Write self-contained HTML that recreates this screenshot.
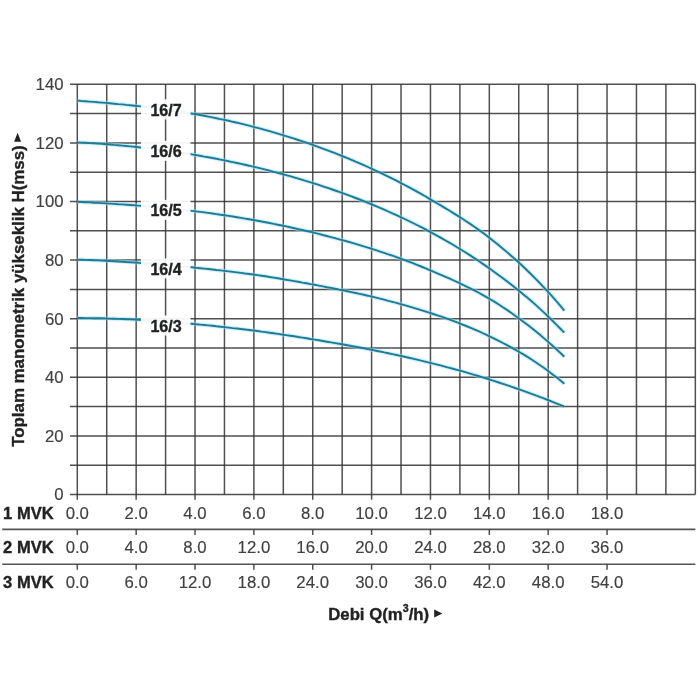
<!DOCTYPE html>
<html><head><meta charset="utf-8"><title>Pump curves</title>
<style>
html,body{margin:0;padding:0;background:#fff;}
body{width:700px;height:700px;overflow:hidden;}
svg{display:block;filter:blur(.4px);}
text{font-family:"Liberation Sans",Arial,Helvetica,sans-serif;}
.n{font-size:16.8px;fill:#404040;stroke:#404040;stroke-width:.15;}
.b{font-size:16.5px;font-weight:bold;fill:#222;stroke:#222;stroke-width:.35;}
.g{stroke:#333;stroke-width:1.5;fill:none;opacity:.86;}
.c{stroke:#1f7a96;stroke-width:1.9;fill:none;stroke-linecap:butt;}
.h{stroke:#9be4f2;stroke-width:4.2;fill:none;opacity:.5;}
.s{stroke:#555;stroke-width:1.6;}
</style></head><body>
<svg width="700" height="700" viewBox="0 0 700 700">
<rect width="700" height="700" fill="#fff"/>
<path class="g" d="M77.30,84.30V499.70M106.73,84.30V494.50M136.16,84.30V499.70M165.59,84.30V494.50M195.02,84.30V499.70M224.45,84.30V494.50M253.88,84.30V499.70M283.31,84.30V494.50M312.74,84.30V499.70M342.17,84.30V494.50M371.60,84.30V499.70M401.03,84.30V494.50M430.46,84.30V499.70M459.89,84.30V494.50M489.32,84.30V499.70M518.75,84.30V494.50M548.18,84.30V499.70M577.61,84.30V494.50M607.04,84.30V499.70M636.47,84.30V494.50M665.90,84.30V494.50M695.33,84.30V494.50"/>
<path class="g" d="M70.00,84.30H695.33M70.00,113.60H695.33M70.00,142.90H695.33M70.00,172.20H695.33M70.00,201.50H695.33M70.00,230.80H695.33M70.00,260.10H695.33M70.00,289.40H695.33M70.00,318.70H695.33M70.00,348.00H695.33M70.00,377.30H695.33M70.00,406.60H695.33M70.00,435.90H695.33M70.00,465.20H695.33M70.00,494.50H695.33"/>
<path class="h" d="M77.3,100.6 L81.4,101.0 L85.5,101.3 L89.6,101.6 L93.7,101.9 L97.8,102.3 L101.9,102.6 L105.9,102.9 L110.0,103.3 L114.1,103.7 L118.2,104.1 L122.3,104.4 L126.4,104.9 L130.5,105.3 L134.6,105.7 L138.7,106.1 L142.8,106.6 L146.9,107.1 L151.0,107.6 L155.1,108.1 L159.1,108.6 L163.2,109.2 L167.3,109.8 L171.4,110.3 L175.5,110.9 L179.6,111.6 L183.7,112.2 L187.8,112.9 L191.9,113.6 L196.0,114.3 L200.1,115.0 L204.2,115.8 L208.3,116.6 L212.4,117.4 L216.4,118.2 L220.5,119.1 L224.6,119.9 L228.7,120.8 L232.8,121.8 L236.9,122.7 L241.0,123.7 L245.1,124.7 L249.2,125.7 L253.3,126.8 L257.4,127.8 L261.5,128.9 L265.6,130.1 L269.6,131.2 L273.7,132.4 L277.8,133.6 L281.9,134.8 L286.0,136.1 L290.1,137.3 L294.2,138.7 L298.3,140.0 L302.4,141.3 L306.5,142.7 L310.6,144.2 L314.7,145.6 L318.8,147.1 L322.8,148.6 L326.9,150.1 L331.0,151.7 L335.1,153.2 L339.2,154.9 L343.3,156.5 L347.4,158.2 L351.5,159.9 L355.6,161.6 L359.7,163.4 L363.8,165.2 L367.9,167.0 L372.0,168.9 L376.0,170.8 L380.1,172.7 L384.2,174.6 L388.3,176.6 L392.4,178.7 L396.5,180.7 L400.6,182.8 L404.7,185.0 L408.8,187.2 L412.9,189.4 L417.0,191.6 L421.1,193.9 L425.2,196.3 L429.2,198.6 L433.3,201.1 L437.4,203.5 L441.5,205.9 L445.6,208.4 L449.7,210.8 L453.8,213.4 L457.9,215.9 L462.0,218.5 L466.1,221.2 L470.2,223.9 L474.3,226.7 L478.4,229.6 L482.5,232.5 L486.5,235.6 L490.6,238.7 L494.7,241.9 L498.8,245.3 L502.9,248.7 L507.0,252.1 L511.1,255.7 L515.2,259.3 L519.3,263.0 L523.4,266.8 L527.5,270.7 L531.6,274.7 L535.7,278.8 L539.7,283.0 L543.8,287.3 L547.9,291.7 L552.0,296.2 L556.1,300.9 L560.2,305.7 L564.3,310.7"/>
<path class="h" d="M77.3,142.4 L81.4,142.6 L85.5,142.8 L89.6,143.1 L93.7,143.3 L97.8,143.6 L101.9,143.9 L105.9,144.2 L110.0,144.5 L114.1,144.9 L118.2,145.2 L122.3,145.6 L126.4,146.0 L130.5,146.4 L134.6,146.8 L138.7,147.2 L142.8,147.7 L146.9,148.1 L151.0,148.6 L155.1,149.1 L159.1,149.7 L163.2,150.2 L167.3,150.7 L171.4,151.3 L175.5,151.9 L179.6,152.5 L183.7,153.1 L187.8,153.8 L191.9,154.4 L196.0,155.1 L200.1,155.8 L204.2,156.6 L208.3,157.3 L212.4,158.0 L216.4,158.8 L220.5,159.6 L224.6,160.4 L228.7,161.3 L232.8,162.1 L236.9,163.0 L241.0,163.9 L245.1,164.8 L249.2,165.7 L253.3,166.7 L257.4,167.7 L261.5,168.7 L265.6,169.7 L269.6,170.7 L273.7,171.8 L277.8,172.9 L281.9,174.0 L286.0,175.1 L290.1,176.2 L294.2,177.4 L298.3,178.6 L302.4,179.8 L306.5,181.1 L310.6,182.3 L314.7,183.6 L318.8,184.9 L322.8,186.3 L326.9,187.7 L331.0,189.0 L335.1,190.5 L339.2,191.9 L343.3,193.4 L347.4,194.9 L351.5,196.4 L355.6,198.0 L359.7,199.5 L363.8,201.2 L367.9,202.8 L372.0,204.5 L376.0,206.2 L380.1,207.9 L384.2,209.7 L388.3,211.5 L392.4,213.3 L396.5,215.2 L400.6,217.1 L404.7,219.0 L408.8,221.0 L412.9,223.0 L417.0,225.0 L421.1,227.1 L425.2,229.2 L429.2,231.4 L433.3,233.6 L437.4,235.8 L441.5,238.1 L445.6,240.5 L449.7,242.8 L453.8,245.3 L457.9,247.7 L462.0,250.2 L466.1,252.8 L470.2,255.4 L474.3,258.1 L478.4,260.8 L482.5,263.6 L486.5,266.4 L490.6,269.2 L494.7,272.2 L498.8,275.2 L502.9,278.2 L507.0,281.3 L511.1,284.5 L515.2,287.7 L519.3,291.0 L523.4,294.4 L527.5,297.8 L531.6,301.3 L535.7,304.9 L539.7,308.6 L543.8,312.4 L547.9,316.3 L552.0,320.3 L556.1,324.4 L560.2,328.5 L564.3,332.7"/>
<path class="h" d="M77.3,201.8 L81.4,202.0 L85.5,202.2 L89.6,202.4 L93.7,202.7 L97.8,202.9 L101.9,203.1 L105.9,203.4 L110.0,203.6 L114.1,203.9 L118.2,204.2 L122.3,204.4 L126.4,204.7 L130.5,205.0 L134.6,205.3 L138.7,205.6 L142.8,206.0 L146.9,206.3 L151.0,206.7 L155.1,207.0 L159.1,207.4 L163.2,207.8 L167.3,208.2 L171.4,208.6 L175.5,209.0 L179.6,209.5 L183.7,209.9 L187.8,210.4 L191.9,210.9 L196.0,211.4 L200.1,211.9 L204.2,212.4 L208.3,212.9 L212.4,213.5 L216.4,214.1 L220.5,214.7 L224.6,215.3 L228.7,215.9 L232.8,216.5 L236.9,217.2 L241.0,217.9 L245.1,218.6 L249.2,219.3 L253.3,220.0 L257.4,220.7 L261.5,221.5 L265.6,222.3 L269.6,223.0 L273.7,223.9 L277.8,224.7 L281.9,225.5 L286.0,226.4 L290.1,227.3 L294.2,228.2 L298.3,229.1 L302.4,230.0 L306.5,231.0 L310.6,231.9 L314.7,232.9 L318.8,233.9 L322.8,235.0 L326.9,236.0 L331.0,237.1 L335.1,238.2 L339.2,239.3 L343.3,240.4 L347.4,241.5 L351.5,242.7 L355.6,243.9 L359.7,245.1 L363.8,246.4 L367.9,247.6 L372.0,248.9 L376.0,250.2 L380.1,251.6 L384.2,252.9 L388.3,254.3 L392.4,255.7 L396.5,257.2 L400.6,258.6 L404.7,260.1 L408.8,261.7 L412.9,263.2 L417.0,264.8 L421.1,266.5 L425.2,268.1 L429.2,269.8 L433.3,271.6 L437.4,273.3 L441.5,275.1 L445.6,276.8 L449.7,278.6 L453.8,280.5 L457.9,282.4 L462.0,284.3 L466.1,286.3 L470.2,288.3 L474.3,290.4 L478.4,292.5 L482.5,294.8 L486.5,297.1 L490.6,299.5 L494.7,301.9 L498.8,304.5 L502.9,307.2 L507.0,309.9 L511.1,312.8 L515.2,315.7 L519.3,318.7 L523.4,321.7 L527.5,324.8 L531.6,328.0 L535.7,331.3 L539.7,334.6 L543.8,338.1 L547.9,341.6 L552.0,345.2 L556.1,349.0 L560.2,352.8 L564.3,356.7"/>
<path class="h" d="M77.3,259.6 L81.4,259.7 L85.5,259.9 L89.6,260.0 L93.7,260.2 L97.8,260.4 L101.9,260.6 L105.9,260.8 L110.0,261.0 L114.1,261.2 L118.2,261.5 L122.3,261.7 L126.4,262.0 L130.5,262.2 L134.6,262.5 L138.7,262.8 L142.8,263.1 L146.9,263.4 L151.0,263.7 L155.1,264.0 L159.1,264.4 L163.2,264.7 L167.3,265.0 L171.4,265.4 L175.5,265.8 L179.6,266.1 L183.7,266.5 L187.8,266.9 L191.9,267.3 L196.0,267.8 L200.1,268.2 L204.2,268.6 L208.3,269.0 L212.4,269.5 L216.4,270.0 L220.5,270.4 L224.6,270.9 L228.7,271.4 L232.8,271.9 L236.9,272.4 L241.0,272.9 L245.1,273.5 L249.2,274.0 L253.3,274.5 L257.4,275.1 L261.5,275.7 L265.6,276.3 L269.6,277.0 L273.7,277.6 L277.8,278.3 L281.9,279.0 L286.0,279.7 L290.1,280.4 L294.2,281.1 L298.3,281.8 L302.4,282.6 L306.5,283.3 L310.6,284.1 L314.7,284.8 L318.8,285.6 L322.8,286.4 L326.9,287.2 L331.0,287.9 L335.1,288.7 L339.2,289.6 L343.3,290.4 L347.4,291.2 L351.5,292.1 L355.6,293.0 L359.7,293.9 L363.8,294.8 L367.9,295.7 L372.0,296.7 L376.0,297.7 L380.1,298.7 L384.2,299.7 L388.3,300.8 L392.4,301.8 L396.5,302.9 L400.6,304.1 L404.7,305.2 L408.8,306.4 L412.9,307.6 L417.0,308.8 L421.1,310.1 L425.2,311.3 L429.2,312.6 L433.3,314.0 L437.4,315.3 L441.5,316.7 L445.6,318.2 L449.7,319.6 L453.8,321.2 L457.9,322.7 L462.0,324.3 L466.1,326.0 L470.2,327.6 L474.3,329.4 L478.4,331.2 L482.5,333.0 L486.5,334.9 L490.6,336.8 L494.7,338.8 L498.8,340.9 L502.9,343.0 L507.0,345.2 L511.1,347.4 L515.2,349.7 L519.3,352.0 L523.4,354.4 L527.5,356.9 L531.6,359.5 L535.7,362.2 L539.7,365.0 L543.8,367.8 L547.9,370.8 L552.0,373.9 L556.1,377.1 L560.2,380.3 L564.3,383.7"/>
<path class="h" d="M77.3,318.0 L81.4,318.0 L85.5,318.1 L89.6,318.1 L93.7,318.2 L97.8,318.2 L101.9,318.3 L105.9,318.4 L110.0,318.6 L114.1,318.7 L118.2,318.9 L122.3,319.0 L126.4,319.2 L130.5,319.4 L134.6,319.6 L138.7,319.8 L142.8,320.1 L146.9,320.3 L151.0,320.6 L155.1,320.9 L159.1,321.2 L163.2,321.5 L167.3,321.8 L171.4,322.1 L175.5,322.4 L179.6,322.8 L183.7,323.1 L187.8,323.5 L191.9,323.8 L196.0,324.2 L200.1,324.6 L204.2,325.0 L208.3,325.4 L212.4,325.8 L216.4,326.3 L220.5,326.7 L224.6,327.1 L228.7,327.6 L232.8,328.1 L236.9,328.5 L241.0,329.0 L245.1,329.5 L249.2,330.0 L253.3,330.5 L257.4,331.0 L261.5,331.6 L265.6,332.1 L269.6,332.7 L273.7,333.3 L277.8,333.9 L281.9,334.5 L286.0,335.1 L290.1,335.7 L294.2,336.3 L298.3,337.0 L302.4,337.6 L306.5,338.3 L310.6,339.0 L314.7,339.6 L318.8,340.3 L322.8,341.0 L326.9,341.7 L331.0,342.4 L335.1,343.1 L339.2,343.8 L343.3,344.5 L347.4,345.2 L351.5,346.0 L355.6,346.7 L359.7,347.5 L363.8,348.3 L367.9,349.1 L372.0,349.9 L376.0,350.7 L380.1,351.5 L384.2,352.4 L388.3,353.2 L392.4,354.1 L396.5,355.0 L400.6,355.9 L404.7,356.8 L408.8,357.7 L412.9,358.6 L417.0,359.6 L421.1,360.6 L425.2,361.6 L429.2,362.6 L433.3,363.6 L437.4,364.6 L441.5,365.7 L445.6,366.8 L449.7,367.9 L453.8,369.0 L457.9,370.1 L462.0,371.2 L466.1,372.4 L470.2,373.6 L474.3,374.8 L478.4,376.0 L482.5,377.3 L486.5,378.5 L490.6,379.8 L494.7,381.1 L498.8,382.5 L502.9,383.8 L507.0,385.2 L511.1,386.6 L515.2,388.0 L519.3,389.4 L523.4,390.9 L527.5,392.3 L531.6,393.8 L535.7,395.3 L539.7,396.9 L543.8,398.4 L547.9,400.0 L552.0,401.6 L556.1,403.3 L560.2,404.9 L564.3,406.6"/>
<path class="c" d="M77.3,100.6 L81.4,101.0 L85.5,101.3 L89.6,101.6 L93.7,101.9 L97.8,102.3 L101.9,102.6 L105.9,102.9 L110.0,103.3 L114.1,103.7 L118.2,104.1 L122.3,104.4 L126.4,104.9 L130.5,105.3 L134.6,105.7 L138.7,106.1 L142.8,106.6 L146.9,107.1 L151.0,107.6 L155.1,108.1 L159.1,108.6 L163.2,109.2 L167.3,109.8 L171.4,110.3 L175.5,110.9 L179.6,111.6 L183.7,112.2 L187.8,112.9 L191.9,113.6 L196.0,114.3 L200.1,115.0 L204.2,115.8 L208.3,116.6 L212.4,117.4 L216.4,118.2 L220.5,119.1 L224.6,119.9 L228.7,120.8 L232.8,121.8 L236.9,122.7 L241.0,123.7 L245.1,124.7 L249.2,125.7 L253.3,126.8 L257.4,127.8 L261.5,128.9 L265.6,130.1 L269.6,131.2 L273.7,132.4 L277.8,133.6 L281.9,134.8 L286.0,136.1 L290.1,137.3 L294.2,138.7 L298.3,140.0 L302.4,141.3 L306.5,142.7 L310.6,144.2 L314.7,145.6 L318.8,147.1 L322.8,148.6 L326.9,150.1 L331.0,151.7 L335.1,153.2 L339.2,154.9 L343.3,156.5 L347.4,158.2 L351.5,159.9 L355.6,161.6 L359.7,163.4 L363.8,165.2 L367.9,167.0 L372.0,168.9 L376.0,170.8 L380.1,172.7 L384.2,174.6 L388.3,176.6 L392.4,178.7 L396.5,180.7 L400.6,182.8 L404.7,185.0 L408.8,187.2 L412.9,189.4 L417.0,191.6 L421.1,193.9 L425.2,196.3 L429.2,198.6 L433.3,201.1 L437.4,203.5 L441.5,205.9 L445.6,208.4 L449.7,210.8 L453.8,213.4 L457.9,215.9 L462.0,218.5 L466.1,221.2 L470.2,223.9 L474.3,226.7 L478.4,229.6 L482.5,232.5 L486.5,235.6 L490.6,238.7 L494.7,241.9 L498.8,245.3 L502.9,248.7 L507.0,252.1 L511.1,255.7 L515.2,259.3 L519.3,263.0 L523.4,266.8 L527.5,270.7 L531.6,274.7 L535.7,278.8 L539.7,283.0 L543.8,287.3 L547.9,291.7 L552.0,296.2 L556.1,300.9 L560.2,305.7 L564.3,310.7"/>
<path class="c" d="M77.3,142.4 L81.4,142.6 L85.5,142.8 L89.6,143.1 L93.7,143.3 L97.8,143.6 L101.9,143.9 L105.9,144.2 L110.0,144.5 L114.1,144.9 L118.2,145.2 L122.3,145.6 L126.4,146.0 L130.5,146.4 L134.6,146.8 L138.7,147.2 L142.8,147.7 L146.9,148.1 L151.0,148.6 L155.1,149.1 L159.1,149.7 L163.2,150.2 L167.3,150.7 L171.4,151.3 L175.5,151.9 L179.6,152.5 L183.7,153.1 L187.8,153.8 L191.9,154.4 L196.0,155.1 L200.1,155.8 L204.2,156.6 L208.3,157.3 L212.4,158.0 L216.4,158.8 L220.5,159.6 L224.6,160.4 L228.7,161.3 L232.8,162.1 L236.9,163.0 L241.0,163.9 L245.1,164.8 L249.2,165.7 L253.3,166.7 L257.4,167.7 L261.5,168.7 L265.6,169.7 L269.6,170.7 L273.7,171.8 L277.8,172.9 L281.9,174.0 L286.0,175.1 L290.1,176.2 L294.2,177.4 L298.3,178.6 L302.4,179.8 L306.5,181.1 L310.6,182.3 L314.7,183.6 L318.8,184.9 L322.8,186.3 L326.9,187.7 L331.0,189.0 L335.1,190.5 L339.2,191.9 L343.3,193.4 L347.4,194.9 L351.5,196.4 L355.6,198.0 L359.7,199.5 L363.8,201.2 L367.9,202.8 L372.0,204.5 L376.0,206.2 L380.1,207.9 L384.2,209.7 L388.3,211.5 L392.4,213.3 L396.5,215.2 L400.6,217.1 L404.7,219.0 L408.8,221.0 L412.9,223.0 L417.0,225.0 L421.1,227.1 L425.2,229.2 L429.2,231.4 L433.3,233.6 L437.4,235.8 L441.5,238.1 L445.6,240.5 L449.7,242.8 L453.8,245.3 L457.9,247.7 L462.0,250.2 L466.1,252.8 L470.2,255.4 L474.3,258.1 L478.4,260.8 L482.5,263.6 L486.5,266.4 L490.6,269.2 L494.7,272.2 L498.8,275.2 L502.9,278.2 L507.0,281.3 L511.1,284.5 L515.2,287.7 L519.3,291.0 L523.4,294.4 L527.5,297.8 L531.6,301.3 L535.7,304.9 L539.7,308.6 L543.8,312.4 L547.9,316.3 L552.0,320.3 L556.1,324.4 L560.2,328.5 L564.3,332.7"/>
<path class="c" d="M77.3,201.8 L81.4,202.0 L85.5,202.2 L89.6,202.4 L93.7,202.7 L97.8,202.9 L101.9,203.1 L105.9,203.4 L110.0,203.6 L114.1,203.9 L118.2,204.2 L122.3,204.4 L126.4,204.7 L130.5,205.0 L134.6,205.3 L138.7,205.6 L142.8,206.0 L146.9,206.3 L151.0,206.7 L155.1,207.0 L159.1,207.4 L163.2,207.8 L167.3,208.2 L171.4,208.6 L175.5,209.0 L179.6,209.5 L183.7,209.9 L187.8,210.4 L191.9,210.9 L196.0,211.4 L200.1,211.9 L204.2,212.4 L208.3,212.9 L212.4,213.5 L216.4,214.1 L220.5,214.7 L224.6,215.3 L228.7,215.9 L232.8,216.5 L236.9,217.2 L241.0,217.9 L245.1,218.6 L249.2,219.3 L253.3,220.0 L257.4,220.7 L261.5,221.5 L265.6,222.3 L269.6,223.0 L273.7,223.9 L277.8,224.7 L281.9,225.5 L286.0,226.4 L290.1,227.3 L294.2,228.2 L298.3,229.1 L302.4,230.0 L306.5,231.0 L310.6,231.9 L314.7,232.9 L318.8,233.9 L322.8,235.0 L326.9,236.0 L331.0,237.1 L335.1,238.2 L339.2,239.3 L343.3,240.4 L347.4,241.5 L351.5,242.7 L355.6,243.9 L359.7,245.1 L363.8,246.4 L367.9,247.6 L372.0,248.9 L376.0,250.2 L380.1,251.6 L384.2,252.9 L388.3,254.3 L392.4,255.7 L396.5,257.2 L400.6,258.6 L404.7,260.1 L408.8,261.7 L412.9,263.2 L417.0,264.8 L421.1,266.5 L425.2,268.1 L429.2,269.8 L433.3,271.6 L437.4,273.3 L441.5,275.1 L445.6,276.8 L449.7,278.6 L453.8,280.5 L457.9,282.4 L462.0,284.3 L466.1,286.3 L470.2,288.3 L474.3,290.4 L478.4,292.5 L482.5,294.8 L486.5,297.1 L490.6,299.5 L494.7,301.9 L498.8,304.5 L502.9,307.2 L507.0,309.9 L511.1,312.8 L515.2,315.7 L519.3,318.7 L523.4,321.7 L527.5,324.8 L531.6,328.0 L535.7,331.3 L539.7,334.6 L543.8,338.1 L547.9,341.6 L552.0,345.2 L556.1,349.0 L560.2,352.8 L564.3,356.7"/>
<path class="c" d="M77.3,259.6 L81.4,259.7 L85.5,259.9 L89.6,260.0 L93.7,260.2 L97.8,260.4 L101.9,260.6 L105.9,260.8 L110.0,261.0 L114.1,261.2 L118.2,261.5 L122.3,261.7 L126.4,262.0 L130.5,262.2 L134.6,262.5 L138.7,262.8 L142.8,263.1 L146.9,263.4 L151.0,263.7 L155.1,264.0 L159.1,264.4 L163.2,264.7 L167.3,265.0 L171.4,265.4 L175.5,265.8 L179.6,266.1 L183.7,266.5 L187.8,266.9 L191.9,267.3 L196.0,267.8 L200.1,268.2 L204.2,268.6 L208.3,269.0 L212.4,269.5 L216.4,270.0 L220.5,270.4 L224.6,270.9 L228.7,271.4 L232.8,271.9 L236.9,272.4 L241.0,272.9 L245.1,273.5 L249.2,274.0 L253.3,274.5 L257.4,275.1 L261.5,275.7 L265.6,276.3 L269.6,277.0 L273.7,277.6 L277.8,278.3 L281.9,279.0 L286.0,279.7 L290.1,280.4 L294.2,281.1 L298.3,281.8 L302.4,282.6 L306.5,283.3 L310.6,284.1 L314.7,284.8 L318.8,285.6 L322.8,286.4 L326.9,287.2 L331.0,287.9 L335.1,288.7 L339.2,289.6 L343.3,290.4 L347.4,291.2 L351.5,292.1 L355.6,293.0 L359.7,293.9 L363.8,294.8 L367.9,295.7 L372.0,296.7 L376.0,297.7 L380.1,298.7 L384.2,299.7 L388.3,300.8 L392.4,301.8 L396.5,302.9 L400.6,304.1 L404.7,305.2 L408.8,306.4 L412.9,307.6 L417.0,308.8 L421.1,310.1 L425.2,311.3 L429.2,312.6 L433.3,314.0 L437.4,315.3 L441.5,316.7 L445.6,318.2 L449.7,319.6 L453.8,321.2 L457.9,322.7 L462.0,324.3 L466.1,326.0 L470.2,327.6 L474.3,329.4 L478.4,331.2 L482.5,333.0 L486.5,334.9 L490.6,336.8 L494.7,338.8 L498.8,340.9 L502.9,343.0 L507.0,345.2 L511.1,347.4 L515.2,349.7 L519.3,352.0 L523.4,354.4 L527.5,356.9 L531.6,359.5 L535.7,362.2 L539.7,365.0 L543.8,367.8 L547.9,370.8 L552.0,373.9 L556.1,377.1 L560.2,380.3 L564.3,383.7"/>
<path class="c" d="M77.3,318.0 L81.4,318.0 L85.5,318.1 L89.6,318.1 L93.7,318.2 L97.8,318.2 L101.9,318.3 L105.9,318.4 L110.0,318.6 L114.1,318.7 L118.2,318.9 L122.3,319.0 L126.4,319.2 L130.5,319.4 L134.6,319.6 L138.7,319.8 L142.8,320.1 L146.9,320.3 L151.0,320.6 L155.1,320.9 L159.1,321.2 L163.2,321.5 L167.3,321.8 L171.4,322.1 L175.5,322.4 L179.6,322.8 L183.7,323.1 L187.8,323.5 L191.9,323.8 L196.0,324.2 L200.1,324.6 L204.2,325.0 L208.3,325.4 L212.4,325.8 L216.4,326.3 L220.5,326.7 L224.6,327.1 L228.7,327.6 L232.8,328.1 L236.9,328.5 L241.0,329.0 L245.1,329.5 L249.2,330.0 L253.3,330.5 L257.4,331.0 L261.5,331.6 L265.6,332.1 L269.6,332.7 L273.7,333.3 L277.8,333.9 L281.9,334.5 L286.0,335.1 L290.1,335.7 L294.2,336.3 L298.3,337.0 L302.4,337.6 L306.5,338.3 L310.6,339.0 L314.7,339.6 L318.8,340.3 L322.8,341.0 L326.9,341.7 L331.0,342.4 L335.1,343.1 L339.2,343.8 L343.3,344.5 L347.4,345.2 L351.5,346.0 L355.6,346.7 L359.7,347.5 L363.8,348.3 L367.9,349.1 L372.0,349.9 L376.0,350.7 L380.1,351.5 L384.2,352.4 L388.3,353.2 L392.4,354.1 L396.5,355.0 L400.6,355.9 L404.7,356.8 L408.8,357.7 L412.9,358.6 L417.0,359.6 L421.1,360.6 L425.2,361.6 L429.2,362.6 L433.3,363.6 L437.4,364.6 L441.5,365.7 L445.6,366.8 L449.7,367.9 L453.8,369.0 L457.9,370.1 L462.0,371.2 L466.1,372.4 L470.2,373.6 L474.3,374.8 L478.4,376.0 L482.5,377.3 L486.5,378.5 L490.6,379.8 L494.7,381.1 L498.8,382.5 L502.9,383.8 L507.0,385.2 L511.1,386.6 L515.2,388.0 L519.3,389.4 L523.4,390.9 L527.5,392.3 L531.6,393.8 L535.7,395.3 L539.7,396.9 L543.8,398.4 L547.9,400.0 L552.0,401.6 L556.1,403.3 L560.2,404.9 L564.3,406.6"/>
<rect x="141" y="99.4" width="49.5" height="20" fill="#fff" opacity="0.93"/>
<rect x="141" y="140.8" width="49.5" height="20" fill="#fff" opacity="0.93"/>
<rect x="141" y="199.9" width="49.5" height="20" fill="#fff" opacity="0.93"/>
<rect x="141" y="258.4" width="49.5" height="20" fill="#fff" opacity="0.93"/>
<rect x="141" y="315.5" width="49.5" height="20" fill="#fff" opacity="0.93"/>
<text class="b" x="150.4" y="115.7" textLength="31.4" lengthAdjust="spacingAndGlyphs">16/7</text>
<text class="b" x="150.4" y="157.1" textLength="31.4" lengthAdjust="spacingAndGlyphs">16/6</text>
<text class="b" x="150.4" y="216.2" textLength="31.4" lengthAdjust="spacingAndGlyphs">16/5</text>
<text class="b" x="150.4" y="274.7" textLength="31.4" lengthAdjust="spacingAndGlyphs">16/4</text>
<text class="b" x="150.4" y="331.8" textLength="31.4" lengthAdjust="spacingAndGlyphs">16/3</text>
<text class="n" x="63.6" y="90.1" text-anchor="end">140</text>
<text class="n" x="63.6" y="148.7" text-anchor="end">120</text>
<text class="n" x="63.6" y="207.3" text-anchor="end">100</text>
<text class="n" x="63.6" y="265.9" text-anchor="end">80</text>
<text class="n" x="63.6" y="324.5" text-anchor="end">60</text>
<text class="n" x="63.6" y="383.1" text-anchor="end">40</text>
<text class="n" x="63.6" y="441.7" text-anchor="end">20</text>
<text class="n" x="63.6" y="500.3" text-anchor="end">0</text>
<text class="b" transform="translate(23.7,446.8) rotate(-90)" x="0" y="0" textLength="301.5" lengthAdjust="spacingAndGlyphs">Toplam manometrik yükseklik H(mss)</text>
<path d="M14.1,141.8 L21.1,141.8 L17.6,132.8 Z" fill="#222"/>
<text class="b" x="3.1" y="519.4" textLength="50.6" lengthAdjust="spacingAndGlyphs">1 MVK</text>
<text class="n" x="77.3" y="519.4" text-anchor="middle">0.0</text>
<text class="n" x="136.2" y="519.4" text-anchor="middle">2.0</text>
<text class="n" x="195.0" y="519.4" text-anchor="middle">4.0</text>
<text class="n" x="253.9" y="519.4" text-anchor="middle">6.0</text>
<text class="n" x="312.7" y="519.4" text-anchor="middle">8.0</text>
<text class="n" x="371.6" y="519.4" text-anchor="middle">10.0</text>
<text class="n" x="430.5" y="519.4" text-anchor="middle">12.0</text>
<text class="n" x="489.3" y="519.4" text-anchor="middle">14.0</text>
<text class="n" x="548.2" y="519.4" text-anchor="middle">16.0</text>
<text class="n" x="607.0" y="519.4" text-anchor="middle">18.0</text>
<text class="b" x="3.1" y="553.0" textLength="50.6" lengthAdjust="spacingAndGlyphs">2 MVK</text>
<text class="n" x="77.3" y="553.0" text-anchor="middle">0.0</text>
<text class="n" x="136.2" y="553.0" text-anchor="middle">4.0</text>
<text class="n" x="195.0" y="553.0" text-anchor="middle">8.0</text>
<text class="n" x="253.9" y="553.0" text-anchor="middle">12.0</text>
<text class="n" x="312.7" y="553.0" text-anchor="middle">16.0</text>
<text class="n" x="371.6" y="553.0" text-anchor="middle">20.0</text>
<text class="n" x="430.5" y="553.0" text-anchor="middle">24.0</text>
<text class="n" x="489.3" y="553.0" text-anchor="middle">28.0</text>
<text class="n" x="548.2" y="553.0" text-anchor="middle">32.0</text>
<text class="n" x="607.0" y="553.0" text-anchor="middle">36.0</text>
<text class="b" x="3.1" y="587.8" textLength="50.6" lengthAdjust="spacingAndGlyphs">3 MVK</text>
<text class="n" x="77.3" y="587.8" text-anchor="middle">0.0</text>
<text class="n" x="136.2" y="587.8" text-anchor="middle">6.0</text>
<text class="n" x="195.0" y="587.8" text-anchor="middle">12.0</text>
<text class="n" x="253.9" y="587.8" text-anchor="middle">18.0</text>
<text class="n" x="312.7" y="587.8" text-anchor="middle">24.0</text>
<text class="n" x="371.6" y="587.8" text-anchor="middle">30.0</text>
<text class="n" x="430.5" y="587.8" text-anchor="middle">36.0</text>
<text class="n" x="489.3" y="587.8" text-anchor="middle">42.0</text>
<text class="n" x="548.2" y="587.8" text-anchor="middle">48.0</text>
<text class="n" x="607.0" y="587.8" text-anchor="middle">54.0</text>
<line class="s" x1="2.2" y1="529.4" x2="695.4" y2="529.4"/>
<path class="g" d="M77.30,529.4v5.6M136.16,529.4v5.6M195.02,529.4v5.6M253.88,529.4v5.6M312.74,529.4v5.6M371.60,529.4v5.6M430.46,529.4v5.6M489.32,529.4v5.6M548.18,529.4v5.6M607.04,529.4v5.6"/>
<line class="s" x1="2.2" y1="564.2" x2="695.4" y2="564.2"/>
<path class="g" d="M77.30,564.2v5.6M136.16,564.2v5.6M195.02,564.2v5.6M253.88,564.2v5.6M312.74,564.2v5.6M371.60,564.2v5.6M430.46,564.2v5.6M489.32,564.2v5.6M548.18,564.2v5.6M607.04,564.2v5.6"/>
<text class="b" x="328.2" y="619.6" textLength="101" lengthAdjust="spacingAndGlyphs">Debi Q(m<tspan dy="-7.3" font-size="10.5">3</tspan><tspan dy="7.3">/h)</tspan></text>
<path d="M434.2,609.4 L442.4,613.4 L434.2,617.4 Z" fill="#222"/>
</svg></body></html>
